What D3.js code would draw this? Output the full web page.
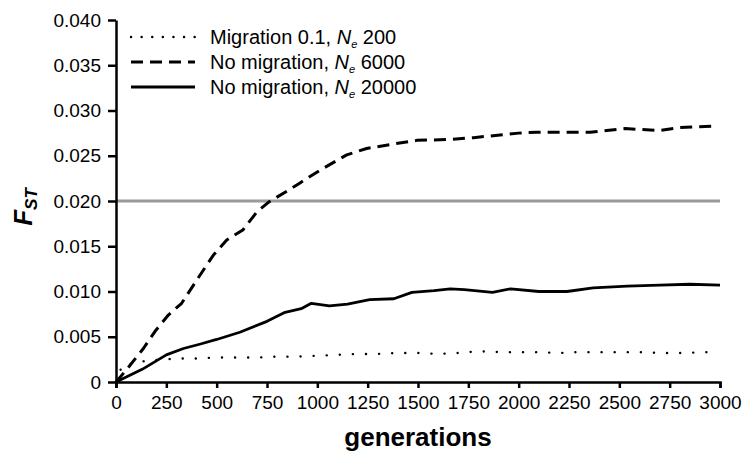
<!DOCTYPE html>
<html>
<head>
<meta charset="utf-8">
<script src="https://cdn.jsdelivr.net/npm/d3@7"></script>
<style>
  body { margin: 0; background: #fff; }
  svg { display: block; font-family: "Liberation Sans", Arial, sans-serif; }
  .axis path, .axis line { stroke: #000; stroke-width: 2.5; }
  .axis text { font-size: 19px; fill: #000; }
</style>
</head>
<body>
<div id="chart"></div>
<script>
// Migration 0.1, Ne 200
const genMig = [0, 30, 100, 160, 250, 300, 400, 500, 600, 700, 800, 900, 1000, 1100, 1200, 1300, 1400, 1500, 1600, 1700, 1800, 1900, 2000, 2100, 2200, 2300, 2400, 2500, 2600, 2700, 2800, 2950];
const fstMig = [0, 0.0018, 0.0021, 0.0024, 0.0025, 0.0026, 0.0026, 0.0027, 0.0027, 0.0027, 0.0028, 0.0028, 0.0029, 0.0030, 0.0031, 0.0031, 0.0032, 0.0032, 0.0031, 0.0032, 0.0034, 0.0033, 0.0033, 0.0033, 0.0032, 0.0033, 0.0033, 0.0033, 0.0033, 0.0032, 0.0032, 0.0033];

// No migration, Ne 6000
const gen6000 = [0, 50, 136, 194, 260, 326, 417, 483, 550, 630, 700, 760, 850, 914, 1013, 1146, 1245, 1378, 1494, 1660, 1776, 1908, 1999, 2090, 2173, 2355, 2437, 2529, 2612, 2702, 2793, 2876, 2990];
const fst6000 = [0, 0.0013, 0.0037, 0.0056, 0.0074, 0.0087, 0.0118, 0.0140, 0.0157, 0.0168, 0.0188, 0.0199, 0.0211, 0.0220, 0.0234, 0.0251, 0.0258, 0.0263, 0.0267, 0.0268, 0.0270, 0.0273, 0.0275, 0.0276, 0.0276, 0.0276, 0.0278, 0.0280, 0.0279, 0.0278, 0.0281, 0.0282, 0.0283];

// No migration, Ne 20000
const gen20000 = [0, 130, 250, 335, 420, 500, 615, 750, 840, 920, 970, 1060, 1150, 1260, 1380, 1470, 1580, 1660, 1730, 1870, 1960, 2100, 2240, 2370, 2540, 2700, 2850, 3000];
const fst20000 = [0, 0.0014, 0.0030, 0.0037, 0.0042, 0.0047, 0.0055, 0.0067, 0.0077, 0.0081, 0.0087, 0.0084, 0.0086, 0.0091, 0.0092, 0.0099, 0.0101, 0.0103, 0.0102, 0.0099, 0.0103, 0.0100, 0.0100, 0.0104, 0.0106, 0.0107, 0.0108, 0.0107];

const xTicks = [0, 250, 500, 750, 1000, 1250, 1500, 1750, 2000, 2250, 2500, 2750, 3000];
const yTicks = [0, 0.005, 0.010, 0.015, 0.020, 0.025, 0.030, 0.035, 0.040];
const refLine = 0.020;

const seriesNames = ["Migration 0.1, ", "No migration, ", "No migration, "];
const seriesNe = ["200", "6000", "20000"];

const width = 744, height = 452;
const margin = { top: 20, right: 24, bottom: 70, left: 116 };

const svg = d3.select("#chart").append("svg")
    .attr("width", width)
    .attr("height", height);

const x = d3.scaleLinear().domain([0, 3000]).range([margin.left, width - margin.right]);
const y = d3.scaleLinear().domain([0, 0.04]).range([height - margin.bottom, margin.top]);

// reference line at 0.020
svg.append("line")
    .attr("x1", x(0)).attr("x2", x(3000))
    .attr("y1", y(refLine)).attr("y2", y(refLine))
    .attr("stroke", "#9a9a9a")
    .attr("stroke-width", 3);

const line = d3.line().x(d => x(d[0])).y(d => y(d[1]));
const zip = (g, f) => g.map((v, i) => [v, f[i]]);

const styles = [
    { width: 2.4, dash: "0.1 13", cap: "round" },
    { width: 3, dash: "12 7", cap: "butt" },
    { width: 2.8, dash: null, cap: "butt" }
];

const series = [zip(genMig, fstMig), zip(gen6000, fst6000), zip(gen20000, fst20000)];

series.forEach((s, i) => {
    svg.append("path")
        .datum(s)
        .attr("d", line)
        .attr("fill", "none")
        .attr("stroke", "#000")
        .attr("stroke-width", styles[i].width)
        .attr("stroke-linecap", styles[i].cap)
        .attr("stroke-linejoin", "round")
        .attr("stroke-dasharray", styles[i].dash);
});

// axes
const xAxis = d3.axisBottom(x).tickValues(xTicks).tickSize(6).tickSizeOuter(6).tickPadding(8)
    .tickFormat(d3.format("d"));
const yAxis = d3.axisLeft(y).tickValues(yTicks).tickSize(8).tickSizeOuter(0).tickPadding(7)
    .tickFormat(d => d === 0 ? "0" : d3.format(".3f")(d));

svg.append("g")
    .attr("class", "axis")
    .attr("transform", `translate(0,${y(0)})`)
    .call(xAxis);

svg.append("g")
    .attr("class", "axis")
    .attr("transform", `translate(${x(0)},0)`)
    .call(yAxis);

// axis titles
svg.append("text")
    .attr("x", (x(0) + x(3000)) / 2)
    .attr("y", 446)
    .attr("text-anchor", "middle")
    .attr("font-size", 26)
    .attr("font-weight", "bold")
    .text("generations");

const yl = svg.append("text")
    .attr("transform", "translate(32,207) rotate(-90)")
    .attr("text-anchor", "middle")
    .attr("font-size", 26)
    .attr("font-weight", "bold")
    .attr("font-style", "italic");
yl.append("tspan").text("F");
yl.append("tspan").attr("font-size", 17).attr("dy", 5).text("ST");

// legend
const legend = svg.append("g");
seriesNames.forEach((name, i) => {
    const ly = 37 + i * 25;
    legend.append("line")
        .attr("x1", 131).attr("x2", 195)
        .attr("y1", ly).attr("y2", ly)
        .attr("stroke", "#000")
        .attr("stroke-width", styles[i].width)
        .attr("stroke-linecap", styles[i].cap)
        .attr("stroke-dasharray", i === 0 ? "0.1 10.5" : styles[i].dash);
    const t = legend.append("text")
        .attr("x", 210).attr("y", ly + 7)
        .attr("font-size", 20);
    t.append("tspan").text(name);
    t.append("tspan").attr("font-style", "italic").text("N");
    t.append("tspan").attr("font-style", "italic").attr("font-size", 11).attr("dy", 4).text("e");
    t.append("tspan").attr("dy", -4).text(" " + seriesNe[i]);
});
</script>
</body>
</html>
